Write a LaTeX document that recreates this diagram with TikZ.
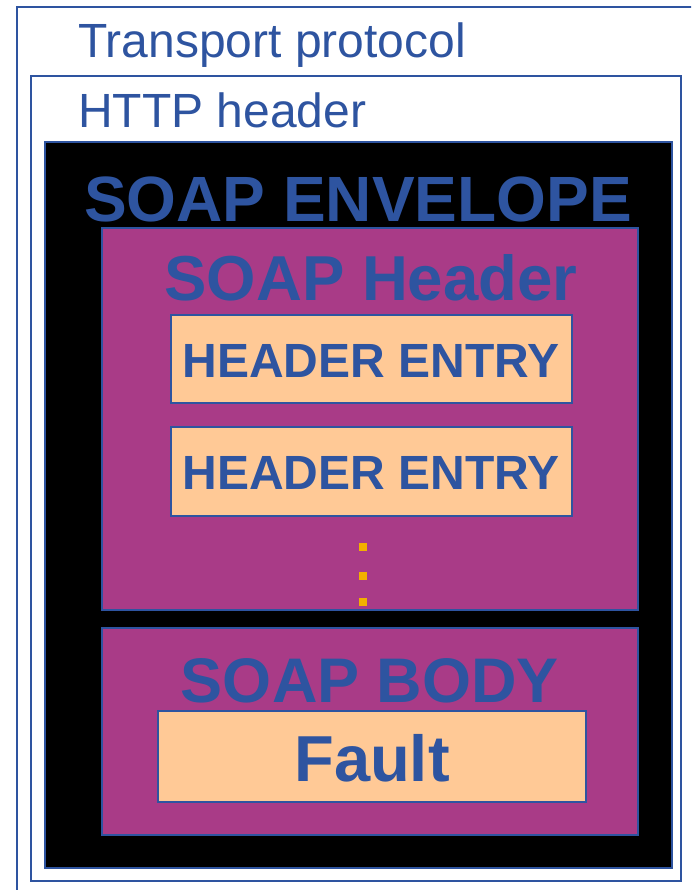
\documentclass[tikz,border=0pt]{standalone}
\usepackage{fontspec}
\setmainfont{Liberation Sans}

\definecolor{soapblue}{RGB}{46,84,160}
\definecolor{soappurple}{RGB}{169,59,135}
\definecolor{soappeach}{RGB}{255,201,150}
\definecolor{soapdot}{RGB}{242,176,0}

\tikzset{
  frame/.style={draw=soapblue, line width=2pt},
  part/.style={draw=soapblue, line width=2pt, fill=soappurple},
  entry/.style={draw=soapblue, line width=1.5pt, fill=soappeach},
  plain/.style={text=soapblue, inner sep=0pt, anchor=base west},
  title/.style={text=soapblue, inner sep=0pt, anchor=base, font=\bfseries},
}

\begin{document}
\begin{tikzpicture}[x=1pt,y=-1pt]

\useasboundingbox (0,0) rectangle (691,890);
\clip (0,0) rectangle (691,890);

% transport protocol
\draw[frame] (17,7) rectangle (720,920);
\node[plain, font=\fontsize{48}{58}\selectfont] (tTransport) at (78,58) {Transport protocol};

% http header
\draw[frame] (31,76) rectangle (681,881);
\node[plain, font=\fontsize{48}{58}\selectfont] (tHttp) at (78,128) {HTTP header};

% envelope
\draw[frame, fill=black] (45,142) rectangle (672,868);
\node[title, font=\bfseries\fontsize{64}{70}\selectfont] (tEnvelope) at (358,222) {SOAP ENVELOPE};

% header
\draw[part] (102,228) rectangle (638,610);
\node[title, font=\bfseries\fontsize{63.5}{70}\selectfont] (tHeader) at (371,300) {SOAP Header};

  \draw[entry] (171,315) rectangle (572,403);
  \node[title, font=\bfseries\fontsize{48}{56}\selectfont] (tEntryA) at (371,377) {HEADER ENTRY};

  \draw[entry] (171,427) rectangle (572,516);
  \node[title, font=\bfseries\fontsize{48}{56}\selectfont] (tEntryB) at (371,489) {HEADER ENTRY};

  \foreach \y in {547,576,602}
    \fill[soapdot] (359,\y-4) rectangle (367,\y+4);

% body
\draw[part] (102,628) rectangle (638,835);
\node[title, font=\bfseries\fontsize{63}{70}\selectfont] (tBody) at (370,702) {SOAP BODY};

  \draw[entry] (158,711) rectangle (586,802);
  \node[title, font=\bfseries\fontsize{65}{72}\selectfont] (tFault) at (372,781) {Fault};

\end{tikzpicture}
\end{document}
